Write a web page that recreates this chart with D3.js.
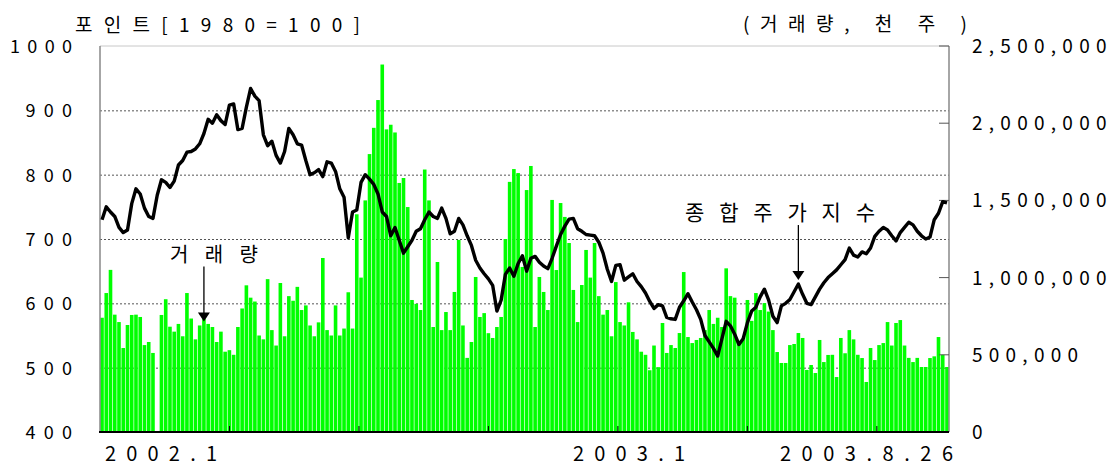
<!DOCTYPE html>
<html>
<head>
<meta charset="utf-8">
<script src="https://cdn.jsdelivr.net/npm/d3@7"></script>
<style>
  body { margin: 0; background: #fff; }
  svg { display: block; font-family: "Noto Sans CJK KR", "Noto Sans", sans-serif; }
</style>
</head>
<body>
<svg id="chart" width="1117" height="468"></svg>
<script>
// KOSPI composite index, sampled every ~2 trading days, 2002.1 -> 2003.8.26
const KOSPI = [
  730, 750, 742, 735, 718, 710, 714, 755, 778, 770,
  748, 735, 732, 768, 792, 788, 780, 790, 815, 822,
  835, 836, 840, 848, 864, 886, 880, 893, 884, 878,
  908, 910, 870, 872, 905, 934, 922, 915, 862, 845,
  852, 830, 818, 836, 872, 862, 848, 846, 822, 800,
  803, 808, 797, 820, 818, 805, 778, 765, 702, 742,
  745, 788, 800, 793, 785, 770, 742, 735, 705, 718,
  698, 678, 688, 698, 712, 716, 730, 742, 735, 732,
  748, 732, 708, 712, 732, 722, 705, 690, 667, 655,
  646, 638, 628, 588, 605, 645, 655, 642, 662, 674,
  650, 670, 673, 664, 658, 654, 670, 689, 707, 720,
  731, 732, 716, 712, 707, 706, 705, 695, 678, 653,
  634, 659, 660, 636, 641, 646, 634, 626, 616, 603,
  592, 598, 596, 578, 576, 575, 594, 604, 615, 602,
  590, 575, 550, 540, 530, 518, 545, 572, 565, 552,
  536, 545, 570, 588, 594, 610, 622, 605, 580, 570,
  596, 600, 606, 618, 630, 614, 600, 598, 610, 622,
  632, 640, 646, 652, 660, 668, 686, 675, 672, 680,
  677, 686, 704, 712, 718, 714, 705, 697, 710, 718,
  726, 722, 712, 705, 700, 703, 730, 740, 758, 756
]

// trading volume, thousand of (천 주)
const VOLUME_K = [
  740, 900, 1050, 760, 712, 544, 693, 758, 760, 745,
  563, 583, 512, 0, 758, 860, 682, 650, 700, 620,
  900, 735, 600, 690, 735, 700, 680, 583, 650, 520,
  530, 500, 680, 800, 950, 870, 845, 625, 600, 990,
  660, 560, 965, 620, 880, 850, 940, 790, 820, 690,
  620, 710, 1127, 660, 625, 820, 625, 670, 905, 670,
  1410, 1000, 1500, 1800, 1970, 2150, 2380, 1960, 1990, 1940,
  1613, 1645, 1457, 855, 830, 790, 1700, 1500, 680, 1101,
  660, 777, 660, 907, 1244, 690, 480, 583, 1004, 745,
  770, 640, 609, 680, 745, 1250, 1620, 1703, 1677, 1069,
  1567, 1723, 680, 1004, 907, 790, 1503, 1049, 1483, 1393,
  1224, 920, 712, 952, 1179, 1000, 1224, 880, 760, 790,
  620, 971, 712, 690, 840, 648, 600, 520, 500, 400,
  560, 420, 706, 512, 563, 544, 641, 1036, 615, 576,
  596, 609, 660, 790, 700, 740, 680, 1060, 880, 870,
  576, 600, 855, 720, 900, 790, 835, 780, 660, 518,
  447, 447, 563, 570, 641, 609, 402, 434, 382, 596,
  453, 499, 500, 356, 609, 510, 660, 600, 500, 479,
  324, 544, 466, 563, 576, 712, 560, 706, 725, 560,
  480, 453, 480, 421, 421, 479, 490, 615, 500, 421
]

const LEFT_TICKS = [400, 500, 600, 700, 800, 900, 1000]
const RIGHT_TICKS = [0, 500, 1000, 1500, 2000, 2500]
const X_LABELS = ["2002.1", "2003.1", "2003.8.26"]
const LEFT_TITLE = "포인트[1980=100]"
const RIGHT_TITLE = "(거래량, 천 주 )"
const VOLUME_NOTE = "거래량"
const INDEX_NOTE = "종합주가지수"

const N = KOSPI.length
const plot = { left: 100, right: 949, top: 46, bottom: 432 }

const svg = d3.select("#chart")
svg.append("rect").attr("width", 1117).attr("height", 468).attr("fill", "#fff")

const x = d3.scaleBand()
  .domain(d3.range(N))
  .range([plot.left, plot.right])
  .paddingInner(0.15)
  .paddingOuter(0.05)
const xIdx = d3.scaleLinear().domain([0, N]).range([plot.left, plot.right])
const yL = d3.scaleLinear().domain([400, 1000]).range([plot.bottom, plot.top])
const yR = d3.scaleLinear().domain([0, 2500]).range([plot.bottom, plot.top])

// dashed grid
svg.append("g")
  .selectAll("line")
  .data(LEFT_TICKS.slice(1, -1))
  .join("line")
  .attr("x1", plot.left).attr("x2", plot.right)
  .attr("y1", d => yL(d) + 0.5).attr("y2", d => yL(d) + 0.5)
  .attr("stroke", "#555")
  .attr("stroke-dasharray", "2,2")

// volume bars
svg.append("g")
  .selectAll("rect")
  .data(VOLUME_K)
  .join("rect")
  .attr("x", (d, i) => x(i))
  .attr("width", x.bandwidth())
  .attr("y", d => yR(d))
  .attr("height", d => plot.bottom - yR(d))
  .attr("fill", "#00ff00")

// frame
svg.append("line").attr("x1", plot.left).attr("x2", plot.right)
  .attr("y1", plot.top).attr("y2", plot.top).attr("stroke", "#c8c8c8")
svg.append("line").attr("x1", plot.left).attr("x2", plot.left)
  .attr("y1", plot.top).attr("y2", plot.bottom).attr("stroke", "#888").attr("stroke-width", 1.5)
svg.append("line").attr("x1", plot.right).attr("x2", plot.right)
  .attr("y1", plot.top).attr("y2", plot.bottom).attr("stroke", "#888").attr("stroke-width", 1.5)

// right axis ticks (inside)
svg.append("g")
  .selectAll("line")
  .data(RIGHT_TICKS)
  .join("line")
  .attr("x1", plot.right - 10).attr("x2", plot.right)
  .attr("y1", d => yR(d)).attr("y2", d => yR(d))
  .attr("stroke", "#555")

// index line
const line = d3.line()
  .x((d, i) => x(i) + x.bandwidth() / 2)
  .y(d => yL(d))
svg.append("path")
  .datum(KOSPI)
  .attr("d", line)
  .attr("fill", "none")
  .attr("stroke", "#000")
  .attr("stroke-width", 3.4)
  .attr("stroke-linejoin", "round")

// bottom axis
svg.append("line").attr("x1", plot.left - 1).attr("x2", plot.right)
  .attr("y1", plot.bottom).attr("y2", plot.bottom).attr("stroke", "#000").attr("stroke-width", 2)
svg.append("g")
  .selectAll("line")
  .data(d3.range(1, 7).map(k => k * 30.5))
  .join("line")
  .attr("x1", d => xIdx(d)).attr("x2", d => xIdx(d))
  .attr("y1", plot.bottom).attr("y2", plot.bottom - 6)
  .attr("stroke", "#000")

// tick labels
const numText = (s, dw, cw) => {
  const digits = s.replace(/[^0-9]/g, "").length
  return digits * dw + (s.length - digits) * cw
}

svg.append("g")
  .selectAll("text")
  .data(LEFT_TICKS)
  .join("text")
  .attr("x", 72)
  .attr("y", d => yL(d) + 7)
  .attr("text-anchor", "end")
  .attr("font-size", 18)
  .attr("fill", "#000")
  .attr("textLength", d => numText(String(d), 15.5, 10))
  .attr("lengthAdjust", "spacing")
  .text(d => d)

const fmt = d3.format(",")
svg.append("g")
  .selectAll("text")
  .data(RIGHT_TICKS)
  .join("text")
  .attr("x", 972)
  .attr("y", d => yR(d) + 7)
  .attr("font-size", 19)
  .attr("fill", "#000")
  .attr("textLength", d => numText(fmt(d * 1000), 15.5, 13))
  .attr("lengthAdjust", "spacing")
  .text(d => fmt(d * 1000))

// x labels
const xLabelPos = [[105, 112], [573, 112], [780, 173]]
svg.append("g")
  .selectAll("text")
  .data(X_LABELS)
  .join("text")
  .attr("x", (d, i) => xLabelPos[i][0])
  .attr("y", 461)
  .attr("font-size", 20)
  .attr("fill", "#000")
  .attr("textLength", (d, i) => xLabelPos[i][1])
  .attr("lengthAdjust", "spacing")
  .text(d => d)

// titles
svg.append("text").attr("x", 75).attr("y", 32)
  .attr("font-size", 19).attr("fill", "#000")
  .attr("textLength", 285).attr("lengthAdjust", "spacing")
  .text(LEFT_TITLE)
svg.append("text").attr("x", 743).attr("y", 31)
  .attr("font-size", 19).attr("fill", "#000")
  .attr("textLength", 224).attr("lengthAdjust", "spacing")
  .text(RIGHT_TITLE)

// annotations with arrows
function arrow(cx, tipY, len) {
  svg.append("line")
    .attr("x1", cx).attr("x2", cx)
    .attr("y1", tipY - len).attr("y2", tipY - 6)
    .attr("stroke", "#000").attr("stroke-width", 1.3)
  svg.append("path")
    .attr("d", `M${cx - 6},${tipY - 9}L${cx + 6},${tipY - 9}L${cx},${tipY}Z`)
    .attr("fill", "#000")
}

const volIdx = 24
arrow(x(volIdx) + x.bandwidth() / 2, yR(VOLUME_K[volIdx]) + 3, 55)
svg.append("text").attr("x", 170).attr("y", 262)
  .attr("font-size", 20).attr("fill", "#000")
  .attr("textLength", 88).attr("lengthAdjust", "spacing")
  .text(VOLUME_NOTE)

const kIdx = 164
arrow(x(kIdx) + x.bandwidth() / 2, yL(KOSPI[kIdx]) - 4, 55)
svg.append("text").attr("x", 685).attr("y", 220)
  .attr("font-size", 21).attr("fill", "#000")
  .attr("textLength", 190).attr("lengthAdjust", "spacing")
  .text(INDEX_NOTE)
</script>
</body>
</html>
